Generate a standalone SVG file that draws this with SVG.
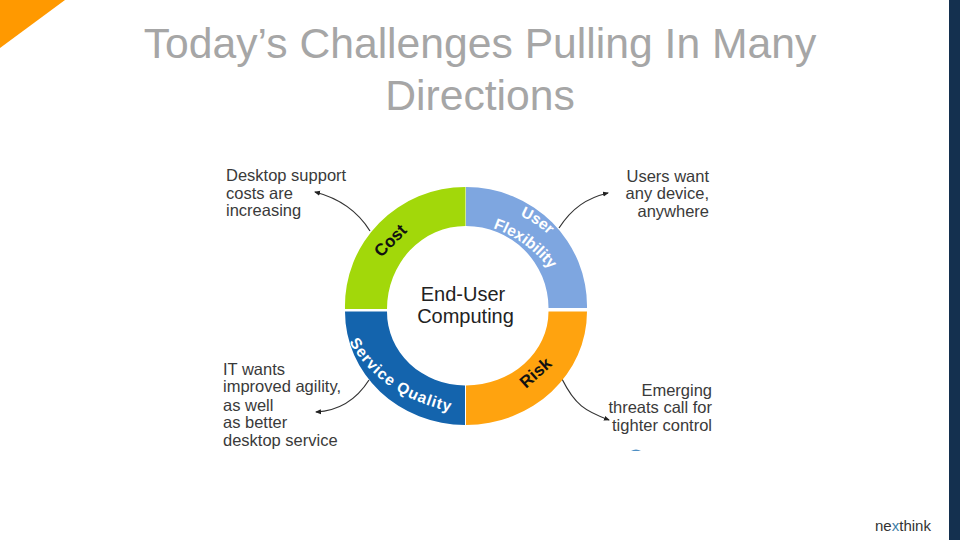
<svg xmlns="http://www.w3.org/2000/svg" width="960" height="540" viewBox="0 0 960 540">
<defs>
<style>
text{font-family:"Liberation Sans",Arial,sans-serif}
.title{font-size:42.67px;fill:#a6a6a6;text-anchor:middle}
.note{font-size:16.5px;fill:#3a3a3a}
.end{text-anchor:end}
.center{font-size:20px;fill:#222;text-anchor:middle}
.seg{font-size:17px;font-weight:bold;fill:#111}
.segw{font-size:15.500px;font-weight:bold;fill:#fff}
.conn{fill:none;stroke:#333;stroke-width:1.2}
</style>
<marker id="tip" markerUnits="userSpaceOnUse" markerWidth="7" markerHeight="7" refX="5" refY="3" orient="auto"><path d="M0 0.500L6 3L0 5.500Z" fill="#222"/></marker>
<path id="pUser1" d="M520 216Q537 223 552 238"/>
<path id="pUser2" d="M493 228Q530 241 556 277"/>
<path id="pService" d="M349 342Q385 402 464 414"/>
</defs>
<rect width="960" height="540" fill="#fff"/>
<path d="M0 0H65L0 48Z" fill="#ff9900"/>
<rect x="949" y="0" width="11" height="540" fill="#14304f"/>
<text class="title" x="480" y="58">Today’s Challenges Pulling In Many</text>
<text class="title" x="480" y="110">Directions</text>
<g id="connectors">
<path class="conn" marker-end="url(#tip)" d="M370 231C357 210 338 198 315 192"/>
<path class="conn" marker-end="url(#tip)" d="M559 228C572 208 587 198 608 193"/>
<path class="conn" marker-end="url(#tip)" d="M369 380C355 402 335 411 316 412"/>
<path class="conn" marker-end="url(#tip)" d="M562 379C575 405 585 411 609 420"/>
</g>
<g id="cost">
<path d="M465.500 187A120.500 119 0 0 0 345 309H387A78.500 83 0 0 1 465.500 226Z" fill="#a2d80a"/>
<text class="seg" transform="translate(381 258) rotate(-45)">Cost</text>
</g>
<g id="user-flexibility">
<path d="M466 187A121 119 0 0 1 587 308H548.500A82.500 82 0 0 0 466 226Z" fill="#7ea6e0"/>
<text class="segw"><textPath href="#pUser1">User</textPath></text>
<text class="segw"><textPath href="#pUser2">Flexibility</textPath></text>
</g>
<g id="service-quality">
<path d="M345 311.500H387A78.500 73.500 0 0 0 465 385.500V425A120 113.500 0 0 1 345 311.500Z" fill="#1464ad"/>
<text class="segw" style="letter-spacing:1px"><textPath href="#pService">Service Quality</textPath></text>
</g>
<g id="risk">
<path d="M548.500 311.500H587A121 113.500 0 0 1 466 425V385.500A82.500 74 0 0 0 548.500 311.500Z" fill="#ffa30f"/>
<text class="seg" transform="translate(526 389) rotate(-42)">Risk</text>
</g>
<g id="end-user-computing">
<text class="center" x="463" y="301">End-User</text>
<text class="center" x="465.500" y="323">Computing</text>
</g>
<g id="note-cost">
<text class="note" x="226" y="181">Desktop support</text>
<text class="note" x="226" y="198.500">costs are</text>
<text class="note" x="226" y="215.500">increasing</text>
</g>
<g id="note-user">
<text class="note end" x="709" y="182">Users want</text>
<text class="note end" x="709" y="199">any device,</text>
<text class="note end" x="709" y="217">anywhere</text>
</g>
<g id="note-service">
<text class="note" x="223" y="375">IT wants</text>
<text class="note" x="223" y="392">improved agility,</text>
<text class="note" x="223" y="411">as well</text>
<text class="note" x="223" y="428">as better</text>
<text class="note" x="223" y="446">desktop service</text>
</g>
<g id="note-risk">
<text class="note end" x="712" y="396">Emerging</text>
<text class="note end" x="712" y="413">threats call for</text>
<text class="note end" x="712" y="431">tighter control</text>
</g>
<path d="M631 451Q636 448 641 451Z" fill="#4f8fc4"/>
<text x="875" y="531" font-size="14" fill="#333" textLength="56" lengthAdjust="spacingAndGlyphs">ne<tspan fill="#3f7fa8">x</tspan>think</text>
</svg>
